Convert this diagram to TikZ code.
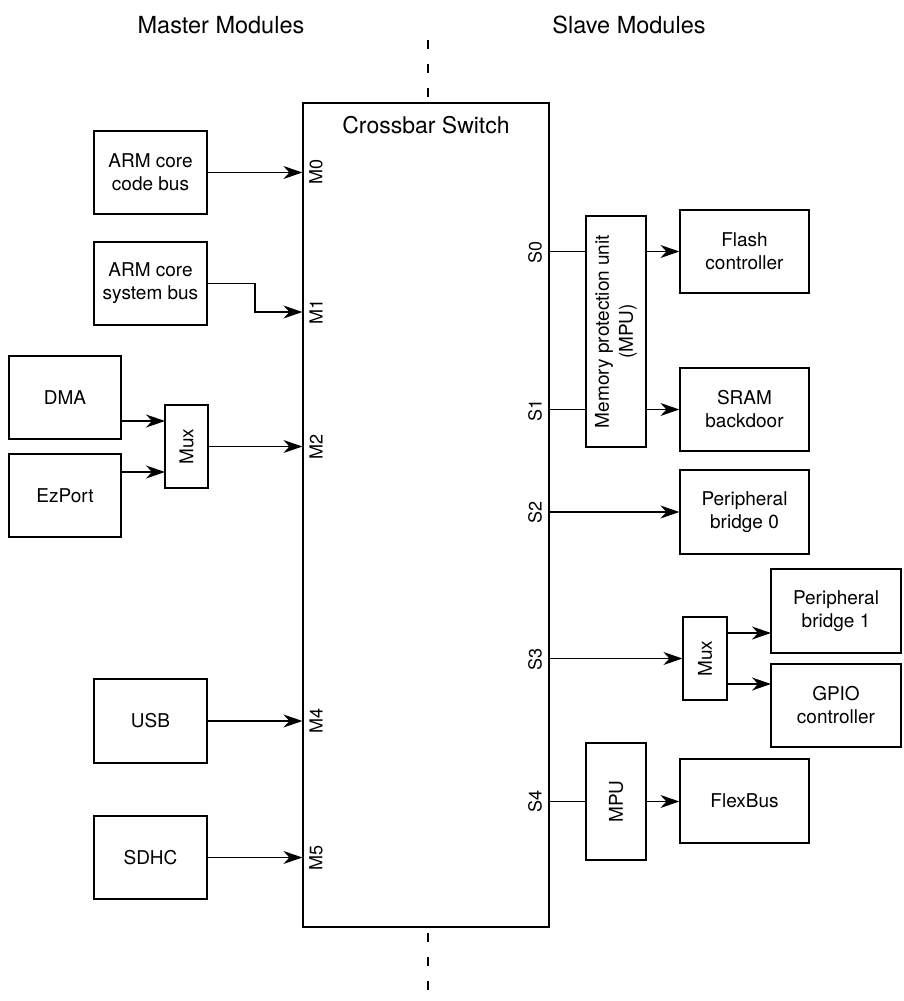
\documentclass[tikz,border=0pt]{standalone}
\usepackage{fontspec}
\setmainfont{TeX Gyre Heros}
\usetikzlibrary{arrows.meta}
\begin{document}
\begin{tikzpicture}[x=1pt,y=-1pt,
  line width=1.2pt,
  box/.style={draw, rectangle, inner sep=0pt, align=center, font=\fontsize{19}{23}\selectfont},
  port/.style={inner sep=0pt, rotate=90, font=\fontsize{18}{22}\selectfont},
  head/.style={inner sep=0pt, font=\fontsize{23.5}{28}\selectfont},
  arr/.style={-{Stealth[length=19pt,width=13pt,inset=6pt]}},
  divider/.style={dash pattern=on 9pt off 15pt}]
\useasboundingbox (0,0) rectangle (904,1001);

% headers
\node[head] (master) at (221,25) {Master Modules};
\node[head] (slave) at (629,25) {Slave Modules};

% crossbar
\node[box, minimum width=246pt, minimum height=824pt] (cb) at (426,515) {};
\node[head, font=\fontsize{23}{28}\selectfont] (cbt) at (426,125) {Crossbar Switch};

% dashed divider
\coordinate (d1) at (428,40);
\coordinate (d2) at (428,933);
\coordinate (d3) at (428,1001);
\draw[divider] (d1) -- (d1 |- cb.north);
\draw[divider] (d2) -- (d3);

% master modules
\node[box, minimum width=113pt, minimum height=83pt] (arm0) at (150.5,172.5) {ARM core\\code bus};
\node[box, minimum width=113pt, minimum height=83pt] (arm1) at (150.5,283.5) {ARM core\\system bus};
\node[box, minimum width=112pt, minimum height=83pt] (dma) at (65,397.5) {DMA};
\node[box, minimum width=112pt, minimum height=83pt] (ezp) at (65,495.5) {EzPort};
\node[box, minimum width=43pt, minimum height=83pt] (mux1) at (186.5,446.5) {};
\node[port, font=\fontsize{19}{23}\selectfont] (mux1t) at (mux1.center) {Mux};
\node[box, minimum width=113pt, minimum height=84pt] (usb) at (150.5,721) {USB};
\node[box, minimum width=113pt, minimum height=83pt] (sdhc) at (150.5,857.5) {SDHC};

% master ports
\node[port] (m0) at (316,172) {M0};
\node[port] (m1) at (316,312) {M1};
\node[port] (m2) at (316,447) {M2};
\node[port] (m4) at (316,721) {M4};
\node[port] (m5) at (316,858) {M5};

% master connectors
\draw[arr] (arm0.east) -- (arm0.east -| cb.west);
\coordinate (j1) at (255,312);
\draw[arr] (arm1.east) -| (j1) -- (j1 -| cb.west);
\coordinate (in1) at (165,421);
\coordinate (in2) at (165,472);
\draw[arr] (dma.east |- in1) -- (in1);
\draw[arr] (ezp.east |- in2) -- (in2);
\draw[arr] (mux1.east) -- (mux1.east -| cb.west);
\draw[arr] (usb.east) -- (usb.east -| cb.west);
\draw[arr] (sdhc.east) -- (sdhc.east -| cb.west);

% slave modules
\node[box, minimum width=60pt, minimum height=231pt] (mpu) at (616,331.5) {};
\node[port, font=\fontsize{19}{24}\selectfont, align=center] (mput) at (mpu.center) {Memory protection unit\\(MPU)};
\node[box, minimum width=129pt, minimum height=83pt] (flash) at (744.5,251.5) {Flash\\controller};
\node[box, minimum width=129pt, minimum height=83pt] (sram) at (744.5,409.5) {SRAM\\backdoor};
\node[box, minimum width=129pt, minimum height=84pt] (pb0) at (744.5,512) {Peripheral\\bridge 0};
\node[box, minimum width=44pt, minimum height=83pt] (mux2) at (705,658.5) {};
\node[port, font=\fontsize{19}{23}\selectfont] (mux2t) at (mux2.center) {Mux};
\node[box, minimum width=130pt, minimum height=84pt] (pb1) at (836,611) {Peripheral\\bridge 1};
\node[box, minimum width=130pt, minimum height=83pt] (gpio) at (836,705.5) {GPIO\\controller};
\node[box, minimum width=60pt, minimum height=117pt] (mpu2) at (616,801.5) {};
\node[port, font=\fontsize{19}{23}\selectfont] (mpu2t) at (mpu2.center) {MPU};
\node[box, minimum width=129pt, minimum height=84pt] (flex) at (744.5,801) {FlexBus};

% slave ports
\node[port] (s0) at (535,252) {S0};
\node[port] (s1) at (535,410) {S1};
\node[port] (s2) at (535,512) {S2};
\node[port] (s3) at (535,659) {S3};
\node[port] (s4) at (535,801) {S4};

% slave connectors
\draw (cb.east |- flash.west) -- (mpu.west |- flash.west);
\draw[arr] (mpu.east |- flash.west) -- (flash.west);
\draw (cb.east |- sram.west) -- (mpu.west |- sram.west);
\draw[arr] (mpu.east |- sram.west) -- (sram.west);
\draw[arr] (cb.east |- pb0.west) -- (pb0.west);
\draw[arr] (cb.east |- mux2.west) -- (mux2.west);
\coordinate (o1) at (771,633);
\coordinate (o2) at (771,684);
\draw[arr] (mux2.east |- o1) -- (o1);
\draw[arr] (mux2.east |- o2) -- (o2);
\draw (cb.east |- mpu2.west) -- (mpu2.west);
\draw[arr] (mpu2.east) -- (mpu2.east -| flex.west);
\end{tikzpicture}
\end{document}
